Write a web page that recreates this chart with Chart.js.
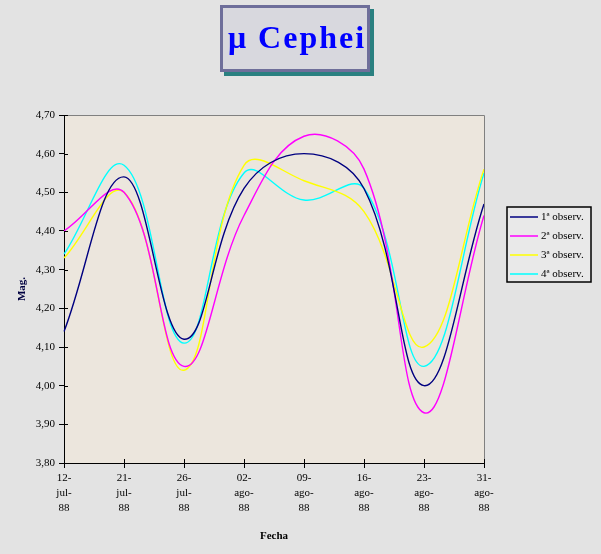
<!DOCTYPE html>
<html><head><meta charset="utf-8">
<script src="https://cdn.jsdelivr.net/npm/chart.js@4"></script>
<style>html,body{margin:0;padding:0;background:#e3e3e3;} canvas{display:block}</style>
</head><body>
<canvas id="c" width="601" height="554"></canvas>
<script>
const titleText = "μ Cephei";
const categories = [["12-","jul-","88"],["21-","jul-","88"],["26-","jul-","88"],["02-","ago-","88"],["09-","ago-","88"],["16-","ago-","88"],["23-","ago-","88"],["31-","ago-","88"]];
const obs1 = [4.14, 4.54, 4.12, 4.51, 4.60, 4.51, 4.00, 4.47];
const obs2 = [4.40, 4.50, 4.05, 4.44, 4.645, 4.56, 3.93, 4.44];
const obs3 = [4.33, 4.50, 4.04, 4.57, 4.53, 4.45, 4.10, 4.56];
const obs4 = [4.34, 4.57, 4.11, 4.55, 4.48, 4.51, 4.05, 4.55];
const seriesNames = ["1ª observ.", "2ª observ.", "3ª observ.", "4ª observ."];
const seriesColors = ["#000080", "#ff00ff", "#ffff00", "#00ffff"];
const yTitle = "Mag.";
const xTitle = "Fecha";
const yMin = 3.8, yMax = 4.7, yStep = 0.1;

const SERIF = "'Liberation Serif', 'Times New Roman', serif";

const decor = {
  id: 'decor',
  beforeDraw(chart) {
    const {ctx, chartArea: a} = chart;
    ctx.save();
    ctx.fillStyle = '#ece6dd';
    ctx.fillRect(a.left, a.top, a.right - a.left, a.bottom - a.top);
    ctx.restore();
  },
  afterDraw(chart) {
    const {ctx, chartArea: a} = chart;
    ctx.save();
    // top/right frame
    ctx.strokeStyle = '#808080'; ctx.lineWidth = 1;
    ctx.beginPath();
    ctx.moveTo(a.left, a.top + 0.5); ctx.lineTo(a.right + 0.5, a.top + 0.5); ctx.lineTo(a.right + 0.5, a.bottom);
    ctx.stroke();
    // inner halves of cross ticks
    ctx.strokeStyle = '#000';
    const ys = chart.scales.y, xs = chart.scales.x;
    ys.ticks.forEach((t, i) => {
      const y = Math.round(ys.getPixelForTick(i)) + 0.5;
      ctx.beginPath(); ctx.moveTo(a.left, y); ctx.lineTo(a.left + 4, y); ctx.stroke();
    });
    xs.ticks.forEach((t, i) => {
      const x = Math.round(xs.getPixelForTick(i)) + 0.5;
      ctx.beginPath(); ctx.moveTo(x, a.bottom); ctx.lineTo(x, a.bottom - 4); ctx.stroke();
    });
    // legend
    const lx = 507, ly = 207, lw = 84, lh = 75;
    ctx.fillStyle = '#e9e9e9';
    ctx.fillRect(lx, ly, lw, lh);
    ctx.strokeStyle = '#000'; ctx.lineWidth = 1.5;
    ctx.strokeRect(lx, ly, lw, lh);
    ctx.font = "11px " + SERIF;
    ctx.textBaseline = 'middle'; ctx.textAlign = 'left';
    chart.data.datasets.forEach((ds, i) => {
      const y = ly + 10 + i * 19;
      ctx.strokeStyle = ds.borderColor; ctx.lineWidth = 1.5;
      ctx.beginPath(); ctx.moveTo(lx + 3, y); ctx.lineTo(lx + 31, y); ctx.stroke();
      ctx.fillStyle = '#000';
      ctx.fillText(ds.label, lx + 34, y);
    });
    // title box
    ctx.fillStyle = '#2a8080';
    ctx.fillRect(224, 9, 150, 67);
    ctx.fillStyle = '#d8d8de';
    ctx.fillRect(220, 5, 150, 67);
    ctx.strokeStyle = '#6e6e9a'; ctx.lineWidth = 3;
    ctx.strokeRect(221.5, 6.5, 147, 64);
    ctx.fillStyle = '#0000ff';
    ctx.font = "bold 32px " + SERIF;
    try { ctx.letterSpacing = '2px'; } catch (e) {}
    ctx.textAlign = 'center'; ctx.textBaseline = 'alphabetic';
    ctx.fillText(titleText, 297, 48);
    ctx.restore();
  }
};

new Chart(document.getElementById('c'), {
  type: 'line',
  data: {
    labels: categories,
    datasets: [obs1, obs2, obs3, obs4].map((d, i) => ({
      label: seriesNames[i],
      data: d,
      borderColor: seriesColors[i],
      backgroundColor: seriesColors[i],
      borderWidth: 1.4,
      pointRadius: 0,
      tension: 0.4,
      fill: false
    }))
  },
  options: {
    responsive: false,
    animation: false,
    devicePixelRatio: 1,
    layout: {padding: {top: 115, right: 117, left: 0, bottom: 0}},
    plugins: {legend: {display: false}, tooltip: {enabled: false}, title: {display: false}},
    scales: {
      x: {
        type: 'category',
        offset: false,
        grid: {drawOnChartArea: false, tickLength: 5, color: '#000'},
        border: {color: '#000', width: 1},
        ticks: {font: {family: SERIF, size: 11, lineHeight: 1.36}, color: '#000', maxRotation: 0, autoSkip: false, padding: 3},
        title: {display: true, text: xTitle, color: '#000', font: {family: SERIF, size: 11, weight: 'bold'}, padding: {top: 0, bottom: 11}},
        afterFit(s) { s.height = 91; }
      },
      y: {
        min: yMin, max: yMax,
        grid: {drawOnChartArea: false, tickLength: 5, color: '#000'},
        border: {color: '#000', width: 1},
        ticks: {stepSize: yStep, font: {family: SERIF, size: 11}, color: '#000', padding: 4,
          callback: v => Number(v).toFixed(2).replace('.', ',')},
        title: {display: true, text: yTitle, color: '#000040', font: {family: SERIF, size: 11, weight: 'bold'}, padding: {top: 16, bottom: 0}},
        afterFit(s) { s.width = 64; }
      }
    }
  },
  plugins: [decor]
});
</script>
</body></html>
